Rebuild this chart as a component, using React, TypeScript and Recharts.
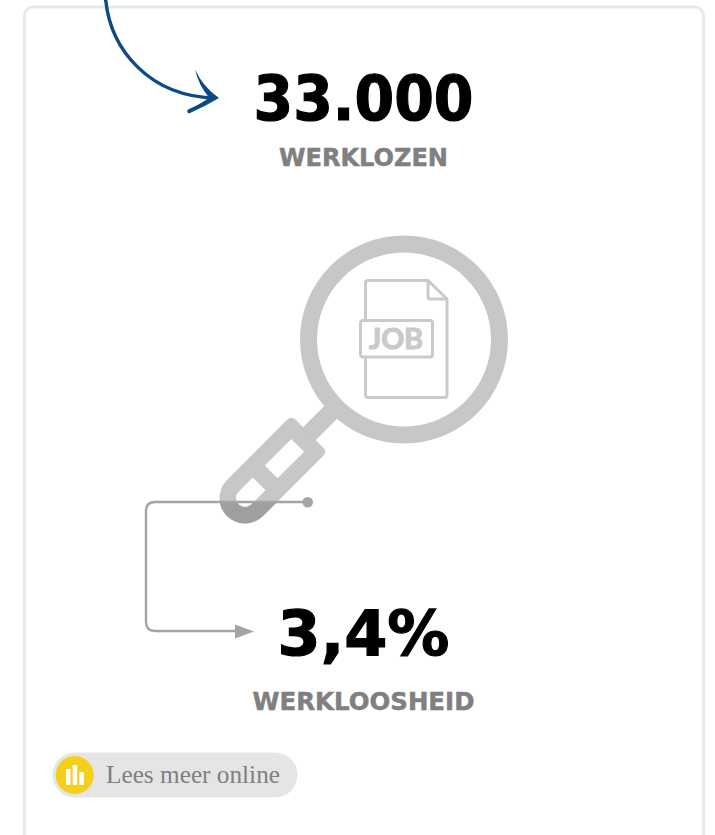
import { Bar, BarChart, ComposedChart, Customized, XAxis, YAxis } from 'recharts'

const statValues = ['33.000', '3,4%']
const statLabels = ['WERKLOZEN', 'WERKLOOSHEID']
const linkText = 'Lees meer online'
const iconCategories = ['a', 'b', 'c']
const iconValues = [16, 20, 13]

const iconData = iconCategories.map((name, i) => ({ name, value: iconValues[i] }))
const statData = statValues.map((value, i) => ({ value, label: statLabels[i] }))

const SANS = '"DejaVu Sans", Verdana, sans-serif'
const LIGHT = '#c8c6c6'
const DARK = '#9f9f9d'
const LINE = '#a4a4a2'
const ICON = '#cbc9c9'
const BLUE = '#0b4a85'

// placement of the two number + label blocks
const statLayout = [
  { valueY: 120, labelY: 166, valueW: 220, labelW: 169, cx: 363.5 },
  { valueY: 655, labelY: 710, valueW: 172, labelW: 222, cx: 363.5 },
]

const HANDLE = 'M0 -25.5 L85 -25.5 Q91 -25.5 91 -19.5 L91 19.5 Q91 25.5 85 25.5 L0 25.5 A25.5 25.5 0 0 1 0 -25.5 Z'

const Artwork = () => (
  <g>
    <rect x={24.5} y={7} width={679} height={900} rx={9} fill="#fff" stroke="#e8e8e8" strokeWidth={3} />

    {/* blue arrow */}
    <path d="M105.5 -2 C110 50 150 97 216 98" fill="none" stroke={BLUE} strokeWidth={3.4} />
    <path
      d="M195 69.5 Q203 87 219 98 Q204 107 189 113.5 Q186 112 188 109.5 Q203 103 209 97.5 Q199 86 195 69.5 Z"
      fill={BLUE}
    />

    {/* magnifier */}
    <circle cx={404} cy={339.5} r={95.5} fill="none" stroke={LIGHT} strokeWidth={17} />
    <defs>
      <clipPath id="below-line">
        <rect x={200} y={502} width={120} height={40} />
      </clipPath>
    </defs>
    <g transform="translate(245 498) rotate(-45)">
      <rect x={85} y={-9} width={50} height={18} fill={LIGHT} />
      <path d={HANDLE} fill={LIGHT} />
    </g>
    <g clipPath="url(#below-line)">
      <path d={HANDLE} fill={DARK} transform="translate(245 498) rotate(-45)" />
    </g>
    <g transform="translate(245 498) rotate(-45)">
      <rect x={37} y={-9} width={37.5} height={18} fill="#fff" />
      <path d="M20 -9 L0 -9 A9 9 0 0 0 0 9 L20 9 Z" fill="#fff" />
    </g>

    {/* job document */}
    <path
      d="M428 280.5 L368 280.5 Q365.5 280.5 365.5 283 L365.5 395 Q365.5 397.5 368 397.5 L445 397.5 Q447 397.5 447 395 L447 299 Z"
      fill="#fff"
      stroke={ICON}
      strokeWidth={3}
      strokeLinejoin="round"
    />
    <path d="M428 280.5 L428 297 Q428 299 430 299 L447 299" fill="none" stroke={ICON} strokeWidth={3} />
    <rect x={360.5} y={320.5} width={72} height={36.5} rx={2.5} fill="#fff" stroke={ICON} strokeWidth={3} />
    <text
      x={396}
      y={349}
      textAnchor="middle"
      fontFamily="Lato, sans-serif"
      fontWeight={700}
      fontSize={29}
      fill={ICON}
      stroke={ICON}
      strokeWidth={1.2}
      textLength={54}
      lengthAdjust="spacingAndGlyphs"
    >
      JOB
    </text>

    {/* connector */}
    <path
      d="M308 502 L155 502 Q146 502 146 511 L146 622 Q146 631 155 631 L238 631"
      fill="none"
      stroke={LINE}
      strokeWidth={2.4}
    />
    <circle cx={307.7} cy={502.3} r={5.3} fill={LINE} />
    <path d="M235 624.5 L254 631.5 L235 638.5 Z" fill={LINE} />

    {/* numbers */}
    {statData.map((stat, i) => {
      const pos = statLayout[i]
      return (
        <g key={stat.label} fontFamily={SANS} fontWeight={700} textAnchor="middle">
          <text
            x={pos.cx}
            y={pos.valueY}
            fontSize={62}
            fill="#000"
            stroke="#000"
            strokeWidth={1.2}
            textLength={pos.valueW}
            lengthAdjust="spacingAndGlyphs"
          >
            {stat.value}
          </text>
          <text
            x={pos.cx}
            y={pos.labelY}
            fontSize={25}
            fill="#808080"
            stroke="#808080"
            strokeWidth={0.5}
            textLength={pos.labelW}
            lengthAdjust="spacingAndGlyphs"
          >
            {stat.label}
          </text>
        </g>
      )
    })}

    {/* badge */}
    <rect x={52.5} y={752.5} width={245} height={45} rx={22.5} fill="#e5e5e5" />
    <circle cx={74.7} cy={775} r={19} fill="#f5d01a" />
    <text
      x={106}
      y={783}
      fontFamily='"Liberation Serif", serif'
      fontSize={25}
      fill="#808080"
      textLength={174}
      lengthAdjust="spacingAndGlyphs"
    >
      {linkText}
    </text>
  </g>
)

export default function App() {
  return (
    <div style={{ position: 'absolute', left: 0, top: 0, width: 715, height: 835, overflow: 'hidden' }}>
      <ComposedChart width={715} height={835} data={statData} margin={{ top: 0, right: 0, bottom: 0, left: 0 }}>
        <Customized component={Artwork} />
      </ComposedChart>
      <div style={{ position: 'absolute', left: 65, top: 765 }}>
        <BarChart width={20} height={20} data={iconData} margin={{ top: 0, right: 0, bottom: 0, left: 0 }}>
          <XAxis dataKey="name" hide />
          <YAxis hide domain={[0, 20]} />
          <Bar dataKey="value" fill="#fff" barSize={4.5} isAnimationActive={false} />
        </BarChart>
      </div>
    </div>
  )
}
